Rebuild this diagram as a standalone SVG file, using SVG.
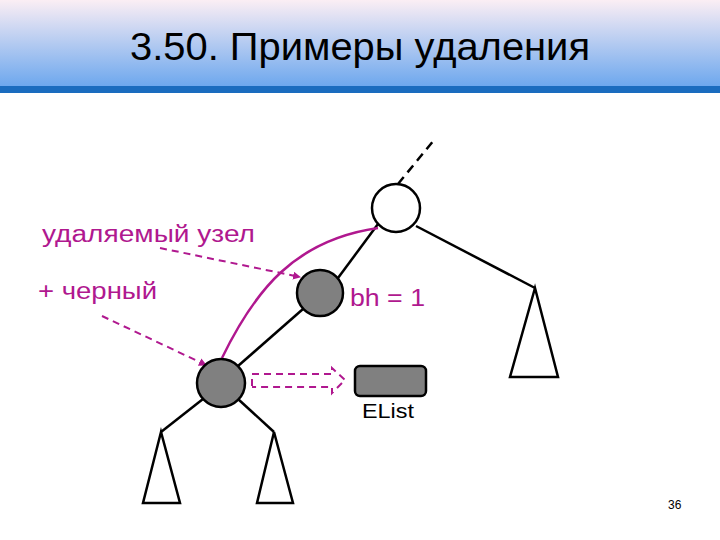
<svg xmlns="http://www.w3.org/2000/svg" width="720" height="540" viewBox="0 0 720 540">
<defs>
<linearGradient id="hg" x1="0" y1="0" x2="0" y2="1"><stop offset="0" stop-color="#fbeef4"/><stop offset="1" stop-color="#6aa6ee"/></linearGradient>
<marker id="ah" markerWidth="8" markerHeight="8" refX="7" refY="4" orient="auto" markerUnits="userSpaceOnUse"><path d="M0,0 L8,4 L0,8 z" fill="#b0188f"/></marker>
</defs>
<style>
.t{font-family:"Liberation Sans",Arial,sans-serif}
.m{fill:#b0188f;font-size:23px}
.e{stroke:#000;stroke-width:2.5;fill:none}
.d{stroke:#b0188f;stroke-width:2;fill:none;stroke-dasharray:7,5}
.g{fill:#808080;stroke:#000;stroke-width:2.5}
</style>
<rect width="720" height="540" fill="#fff"/>
<rect width="720" height="88" fill="url(#hg)"/>
<rect y="86" width="720" height="7" fill="#1a6cbf"/>
<text class="t" x="130" y="60" font-size="38" textLength="460" lengthAdjust="spacingAndGlyphs">3.50. Примеры удаления</text>
<g id="connectors">
<line class="e" x1="398" y1="184" x2="434" y2="140" stroke-dasharray="9,6"/>
<line class="e" x1="378" y1="224" x2="338" y2="278"/>
<line class="e" x1="303" y1="309" x2="238" y2="366"/>
<line class="e" x1="416" y1="226" x2="535" y2="288"/>
<line class="e" x1="203" y1="399" x2="161" y2="432"/>
<line class="e" x1="238" y1="399" x2="274" y2="432"/>
<path class="e" d="M535,288 L510,377 L558,377 Z"/>
<path class="e" d="M161,432 L143,503 L180,503 Z"/>
<path class="e" d="M274,432 L257,503 L293,503 Z"/>
<path d="M222,358 C255,290 295,240 378,228" stroke="#b0188f" stroke-width="2.5" fill="none"/>
<path class="d" d="M160,248 L300,277" marker-end="url(#ah)"/>
<path class="d" d="M102,316 L206,365" marker-end="url(#ah)"/>
<path class="d" d="M252,386 L252,374 L332,374 L332,368 L345,380 L332,393 L332,387 L252,387"/>
</g>
<g id="n1"><circle cx="396" cy="208" r="24" fill="#fff" stroke="#000" stroke-width="2.5"/></g>
<g id="n2"><circle class="g" cx="320" cy="293" r="23"/></g>
<g id="n3"><circle class="g" cx="221" cy="383" r="24"/></g>
<g id="elist"><rect class="g" x="355" y="366" width="71" height="30" rx="5"/>
<text class="t" x="362" y="418" font-size="21" textLength="52" lengthAdjust="spacingAndGlyphs">EList</text></g>
<text class="t m" x="42" y="242" textLength="213" lengthAdjust="spacingAndGlyphs">удаляемый узел</text>
<text class="t m" x="38" y="299" textLength="119" lengthAdjust="spacingAndGlyphs">+ черный</text>
<text class="t m" x="350" y="306" textLength="75" lengthAdjust="spacingAndGlyphs">bh = 1</text>
<text class="t" x="668" y="509" font-size="12">36</text>
</svg>
